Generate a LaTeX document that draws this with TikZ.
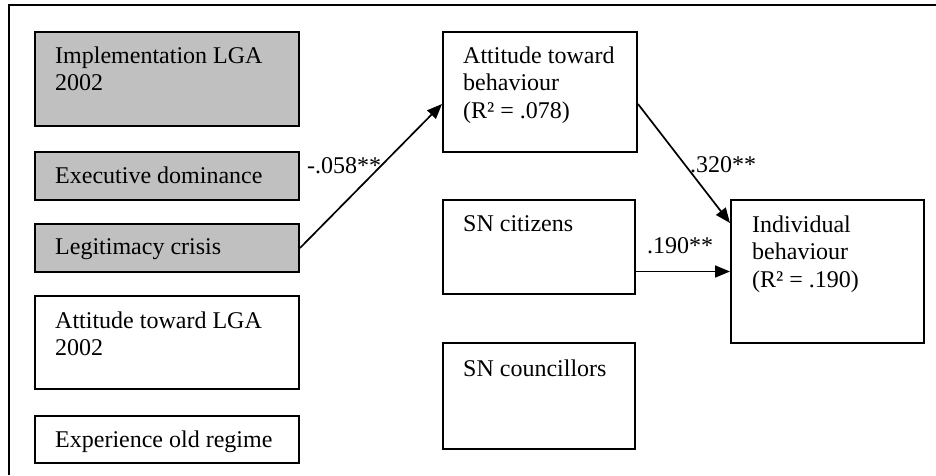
\documentclass[tikz,border=0pt]{standalone}
\usepackage{fontspec}
\setmainfont{Liberation Serif}
\usetikzlibrary{arrows.meta}
\definecolor{boxgray}{RGB}{192,192,192}
\begin{document}
\begin{tikzpicture}[x=1pt,y=-1pt,
  box/.style={draw, line width=2pt, anchor=north west, inner sep=0pt, minimum width=#1},
  shaded/.style={fill=boxgray},
  txt/.style={anchor=north west, inner sep=0pt, align=left, font=\fontsize{24}{27.6}\selectfont},
  coef/.style={anchor=base west, inner sep=0pt, font=\fontsize{24}{27.6}\selectfont},
  arr/.style={line width=1.7pt, -{Triangle[length=15pt,width=12pt]}},
  frame/.style={line width=2pt}
]
\useasboundingbox (0,0) rectangle (936,475);

% outer frame (only top and left edges fall inside the page)
\draw[frame] (9,475) -- (9,5) -- (936,5);

% exogenous variables
\node[box=264pt, shaded, minimum height=94pt] (b1) at (34,31) {};
\node[box=264pt, shaded, minimum height=48pt] (b2) at (34,151) {};
\node[box=264pt, shaded, minimum height=48pt] (b3) at (34,223) {};
\node[box=264pt, minimum height=93pt] (b4) at (34,295) {};
\node[box=264pt, minimum height=47pt] (b5) at (34,415) {};

\node[txt] (t1) at ([xshift=21pt,yshift=-12.7pt]b1.north west) {\strut Implementation LGA\\2002};
\node[txt] (t2) at ([xshift=21pt,yshift=-12.7pt]b2.north west) {\strut Executive dominance};
\node[txt] (t3) at ([xshift=21pt,yshift=-11.7pt]b3.north west) {\strut Legitimacy crisis};
\node[txt] (t4) at ([xshift=21pt,yshift=-13.7pt]b4.north west) {\strut Attitude toward LGA\\2002};
\node[txt] (t5) at ([xshift=21pt,yshift=-12.7pt]b5.north west) {\strut Experience old regime};

% mediators
\node[box=194pt, minimum height=120pt] (m1) at (442,31) {};
\node[box=192pt, minimum height=94pt] (m2) at (442,199) {};
\node[box=192pt, minimum height=106pt] (m3) at (442,342) {};

\node[txt] (u1) at ([xshift=21pt,yshift=-12.7pt]m1.north west) {\strut Attitude toward\\behaviour\\(R² = .078)};
\node[txt] (u2) at ([xshift=21pt,yshift=-12.7pt]m2.north west) {\strut SN citizens};
\node[txt] (u3) at ([xshift=21pt,yshift=-15.4pt]m3.north west) {\strut SN councillors};

% outcome
\node[box=193pt, minimum height=143pt] (ib) at (730,199) {};
\node[txt] (v1) at ([xshift=22pt,yshift=-13.7pt]ib.north west) {\strut Individual\\behaviour\\(R² = .190)};

% paths
\draw[arr] (b3.east) -- ([yshift=-12pt]m1.west);
\draw[arr] ([yshift=-12pt]m1.east) -- ([yshift=48.5pt]ib.west);
\draw[arr] (ib.west -| m2.east) -- (ib.west);

% path coefficients
\node[coef] (c1) at (307,173) {-.058**};
\node[coef] (c2) at (690,172) {.320**};
\node[coef] (c3) at (647,253) {.190**};
\end{tikzpicture}
\end{document}
